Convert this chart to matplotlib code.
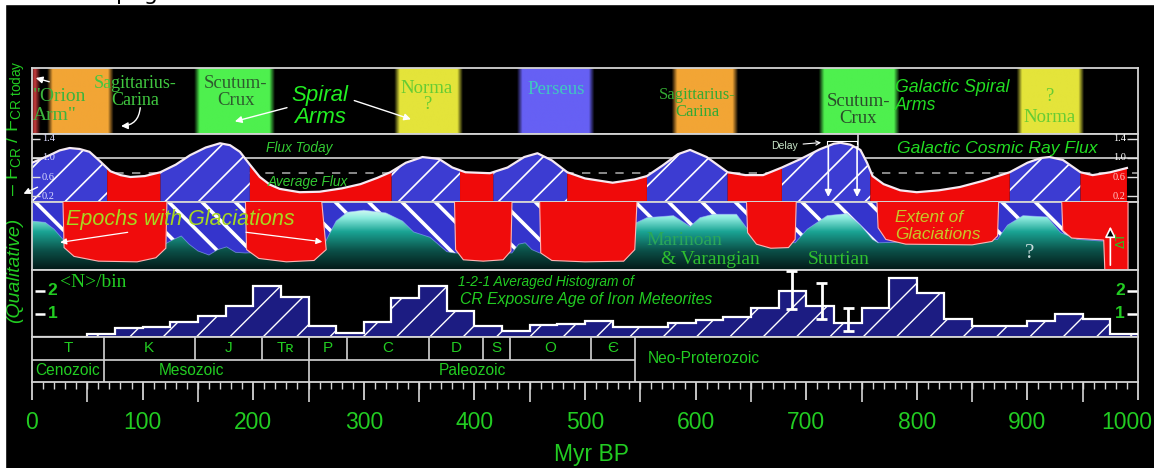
import numpy as np
import matplotlib
matplotlib.use("Agg")
import matplotlib.pyplot as plt
from matplotlib.colors import LinearSegmentedColormap, to_rgb
from matplotlib.patches import Rectangle

W, H = 1154, 468
X0, X1 = 32, 1138          # pixel columns of 0 and 1000 Myr

# ---------------- data ----------------
# spiral arm crossings (Myr BP)
arm_start = [0, 16, 149, 330, 441, 581, 714, 893]
arm_end = [5, 71, 217, 387, 506, 636, 782, 949]
arm_color = ['#c83c3c', '#f2a535', '#4ef04e', '#e4e43a', '#6660f4',
             '#f2a535', '#4ef04e', '#e4e43a']

# galactic cosmic ray flux, relative to today
flux_age = [0, 8, 16, 25, 34, 43, 52, 62, 71, 80, 89, 102, 116, 130, 143, 157,
            170, 179, 188, 197, 206, 215, 224, 242, 260, 280, 297, 312, 324,
            338, 353, 368, 380, 392, 414, 430, 445, 457, 470, 484, 500, 525,
            545, 556, 570, 584, 595, 610, 629, 645, 661, 678, 695, 712, 725,
            731, 740, 749, 755, 760, 770, 785, 800, 820, 839, 860, 884, 900,
            912, 920, 932, 948, 959, 975, 990]
flux_val = [0.90, 0.98, 1.06, 1.16, 1.21, 1.19, 1.13, 0.92, 0.72, 0.64, 0.60,
            0.62, 0.70, 0.86, 1.06, 1.22, 1.31, 1.27, 1.13, 0.86, 0.60, 0.44,
            0.35, 0.28, 0.29, 0.36, 0.45, 0.58, 0.70, 0.90, 1.02, 0.98, 0.80,
            0.70, 0.68, 0.80, 1.02, 1.10, 0.95, 0.70, 0.57, 0.48, 0.55, 0.62,
            0.84, 1.08, 1.17, 1.02, 0.70, 0.64, 0.64, 0.80, 0.98, 1.18, 1.30,
            1.32, 1.28, 1.17, 0.90, 0.62, 0.45, 0.32, 0.28, 0.32, 0.39, 0.52,
            0.70, 0.90, 1.00, 1.02, 0.96, 0.70, 0.64, 0.70, 0.79]
flux_avg = 0.68
flux_ticks = [1.4, 1.0, 0.6, 0.2]
high_start = [0, 116, 325, 417, 556, 678, 884]
high_end = [68, 197, 387, 484, 629, 758, 948]
low_start = [68, 197, 387, 484, 629, 758, 948]
low_end = [116, 325, 417, 556, 678, 884, 990]

# ice / sea profile under the glaciation bands
terrain_age = [0, 12, 20, 28, 40, 120, 128, 135, 142, 150, 160, 168, 176, 184,
               193, 262, 268, 275, 285, 300, 320, 335, 345, 360, 375, 382, 434,
               440, 446, 452, 459, 547, 556, 580, 595, 604, 616, 637, 646, 655,
               690, 701, 719, 737, 749, 760, 765, 873, 882, 896, 918, 930, 945,
               991]
terrain_h = [0.72, 0.70, 0.60, 0.45, 0.35, 0.38, 0.45, 0.50, 0.38, 0.28, 0.22,
             0.30, 0.34, 0.26, 0.25, 0.30, 0.50, 0.72, 0.85, 0.88, 0.84, 0.72,
             0.56, 0.48, 0.27, 0.25, 0.25, 0.38, 0.40, 0.30, 0.25, 0.70, 0.77,
             0.80, 0.64, 0.77, 0.82, 0.82, 0.62, 0.45, 0.40, 0.60, 0.80, 0.83,
             0.66, 0.45, 0.40, 0.45, 0.66, 0.80, 0.78, 0.55, 0.45, 0.40]

# epochs with glaciations: outline of each band's lower edge
glac_age = [[28, 29, 38, 60, 95, 112, 121, 122],
            [193, 194, 205, 230, 255, 266, 262],
            [382, 383, 390, 408, 426, 433, 434],
            [459, 460, 470, 500, 535, 545, 547],
            [646, 647, 655, 668, 684, 690, 691],
            [764, 765, 772, 790, 850, 868, 873, 874],
            [931, 932, 940, 960, 969, 970, 991, 991]]
glac_bottom = [[1, 0.33, 0.20, 0.13, 0.12, 0.18, 0.32, 1],
               [1, 0.30, 0.17, 0.12, 0.14, 0.30, 1],
               [1, 0.30, 0.15, 0.13, 0.15, 0.28, 1],
               [1, 0.25, 0.14, 0.12, 0.13, 0.30, 1],
               [1, 0.55, 0.38, 0.32, 0.33, 0.45, 1],
               [1, 0.62, 0.45, 0.38, 0.37, 0.42, 0.50, 1],
               [1, 0.58, 0.47, 0.45, 0.44, 0.00, 0.00, 1]]

# iron meteorite exposure ages, 1-2-1 averaged, 25 Myr bins
hist_edges = list(range(0, 1001, 25))
hist_n = [0, 0, 0.13, 0.40, 0.45, 0.65, 0.90, 1.35, 2.20, 1.75,
          0.48, 0.17, 0.65, 1.70, 2.20, 1.13, 0.48, 0.26, 0.50, 0.55,
          0.70, 0.45, 0.45, 0.60, 0.75, 0.85, 1.25, 2.00, 1.35, 0.60,
          1.26, 2.57, 1.90, 0.78, 0.48, 0.48, 0.70, 1.00, 0.78, 0.13]
err_age = [687, 714, 738]
err_lo = [1.22, 0.78, 0.26]
err_hi = [2.87, 2.35, 1.26]

# geological time scale
periods = ['T', 'K', 'J', 'Tʀ', 'P', 'C', 'D', 'S', 'O', 'Є']
period_edges = [0, 65, 147, 208, 250, 285, 359, 408, 432, 505, 545]
eras = ['Cenozoic', 'Mesozoic', 'Paleozoic']
era_edges = [0, 65, 250, 545]
era_pos = [32, 144, 398]
age_ticks = list(range(0, 1001, 100))

# ---------------- style ----------------
SANS = ['Liberation Sans', 'DejaVu Sans']
SERIF = ['Liberation Serif', 'DejaVu Serif']
GREEN = '#22cc22'
FRAME = '#d4d4d4'

plt.rcParams['mathtext.fontset'] = 'custom'
plt.rcParams['mathtext.rm'] = 'Liberation Sans'
plt.rcParams['mathtext.it'] = 'Liberation Sans:italic'
plt.rcParams['mathtext.default'] = 'regular'

fig = plt.figure(figsize=(W / 100, H / 100), dpi=100, facecolor='black')


def panel(top, bottom):
    ax = fig.add_axes([X0 / W, 1 - bottom / H, (X1 - X0) / W, (bottom - top) / H])
    ax.set_facecolor('black')
    ax.set_xticks([])
    ax.set_yticks([])
    for s in ax.spines.values():
        s.set_color(FRAME)
        s.set_linewidth(1.3)
    return ax


def hatched(coll, width):
    if hasattr(coll, 'set_hatch_linewidth'):
        coll.set_hatch_linewidth(width)


# ---------------- spiral arms ----------------
ax_arm = panel(68, 134)
grid = np.linspace(0, 1000, 2001)
strip = np.zeros((1, grid.size, 3))
for s, e, c in zip(arm_start, arm_end, arm_color):
    w = np.clip(np.minimum(grid - s, e - grid) / 5.0 + 0.5, 0, 1)
    strip += w[None, :, None] * np.array(to_rgb(c))
ax_arm.imshow(np.clip(strip, 0, 1), extent=[0, 1000, 0, 1], aspect='auto',
              interpolation='bilinear')
ax_arm.set_xlim(0, 1000)
ax_arm.set_ylim(0, 1)

ax_arm.text(1, 0.42, '"Orion\nArm"', family=SERIF, fontsize=14, color='#3cb43c',
            ha='left', va='center', linespacing=1.15)
ax_arm.text(93, 0.64, 'Sagittarius-\nCarina', family=SERIF, fontsize=13, color='#40c840',
            ha='center', va='center', linespacing=1.0)
ax_arm.text(184, 0.64, 'Scutum-\nCrux', family=SERIF, fontsize=13.5, color='#2e5a2e',
            ha='center', va='center', linespacing=1.0)
ax_arm.text(260, 0.42, 'Spiral\nArms', family=SANS, style='italic', fontsize=16,
            color='#22ee22', ha='center', va='center', linespacing=1.05)
ax_arm.text(357, 0.69, 'Norma', family=SERIF, fontsize=13.5, color='#66cc33',
            ha='center', va='center')
ax_arm.text(357, 0.44, '?', family=SERIF, fontsize=13.5, color='#66cc33',
            ha='center', va='center')
ax_arm.text(474, 0.67, 'Perseus', family=SERIF, fontsize=13.5, color='#40c8c0',
            ha='center', va='center')
ax_arm.text(602, 0.46, 'Sagittarius-\nCarina', family=SERIF, fontsize=12, color='#33aa33',
            ha='center', va='center', linespacing=1.1)
ax_arm.text(747, 0.37, 'Scutum-\nCrux', family=SERIF, fontsize=13.5, color='#2a4a2a',
            ha='center', va='center', linespacing=1.0)
ax_arm.text(780, 0.57, 'Galactic Spiral\nArms', family=SANS, style='italic',
            fontsize=12.8, color='#22dd22', ha='left', va='center', linespacing=1.05)
ax_arm.text(920, 0.57, '?', family=SERIF, fontsize=13.5, color='#66cc33',
            ha='center', va='center')
ax_arm.text(920, 0.25, 'Norma', family=SERIF, fontsize=13.5, color='#66cc33',
            ha='center', va='center')

arrow = dict(arrowstyle='-|>', color='white', lw=1.0, mutation_scale=10)
ax_arm.annotate('', xy=(181, 0.18), xytext=(233, 0.41), arrowprops=arrow)
ax_arm.annotate('', xy=(345, 0.21), xytext=(289, 0.52), arrowprops=arrow)
ax_arm.annotate('', xy=(1, 0.86), xytext=(18, 0.78), arrowprops=arrow)
ax_arm.annotate('', xy=(78, 0.12), xytext=(98, 0.44),
                arrowprops=dict(arrow, connectionstyle='arc3,rad=-0.5'))

# ---------------- cosmic ray flux ----------------
ax_flux = panel(134, 202)
ax_flux.set_xlim(0, 1000)
ax_flux.set_ylim(0.074, 1.505)
ax_flux.axhline(1.0, color=FRAME, lw=1.2, zorder=1)
ax_flux.axhline(flux_avg, color='#a0a0a0', lw=1.2, ls=(0, (5, 5)), zorder=1)
ax_flux.vlines(747, 1.0, 1.505, color=FRAME, lw=1.2, zorder=1)

fx = np.linspace(0, 990, 1981)
fy = np.interp(fx, flux_age, flux_val)
for s, e in zip(high_start, high_end):
    m = (fx >= s) & (fx <= e)
    c = ax_flux.fill_between(fx[m], 0, fy[m], facecolor='#3c3cd2', edgecolor='white',
                             hatch='/', lw=0, zorder=2)
    hatched(c, 1.2)
for s, e in zip(low_start, low_end):
    m = (fx >= s) & (fx <= e)
    ax_flux.fill_between(fx[m], 0, fy[m], facecolor='#f00a0a', lw=0, zorder=2)
ax_flux.plot(flux_age, flux_val, color='#f6eaf2', lw=1.6, zorder=3)

for v in flux_ticks:
    ax_flux.hlines(v, 0, 7, color='#e0e0e0', lw=1, zorder=4)
    ax_flux.hlines(v, 990, 1000, color='#e0e0e0', lw=1, zorder=4)
    ax_flux.text(9, v, f'{v:.1f}', family=SERIF, fontsize=7.5, color='#dcdcff',
                 va='center', ha='left', zorder=4)
    ax_flux.text(989, v, f'{v:.1f}', family=SERIF, fontsize=7.5,
                 color='white' if v >= 1 else '#ffc8c8', va='center', ha='right', zorder=4)

ax_flux.text(242, 1.21, 'Flux Today', family=SANS, style='italic', fontsize=9.8,
             color='#33cc33', ha='center', va='center', zorder=4)
ax_flux.text(249, 0.50, 'Average Flux', family=SANS, style='italic', fontsize=9.8,
             color='#33cc33', ha='center', va='center', zorder=4)
ax_flux.text(782, 1.21, 'Galactic Cosmic Ray Flux', family=SANS, style='italic',
             fontsize=12.6, color='#22dd22', ha='left', va='center', zorder=4)
ax_flux.annotate('Delay', xy=(716, 1.33), xytext=(668, 1.26), family=SANS, fontsize=7.5,
                 color='#c8e6c8', va='center',
                 arrowprops=dict(arrowstyle='->', color='white', lw=0.8))
ax_flux.plot([719, 719, 746, 746], [1.30, 1.36, 1.36, 1.30], color='white', lw=0.8, zorder=4)
for a in (720, 746):
    ax_flux.annotate('', xy=(a, 0.12), xytext=(a, 1.30), zorder=5,
                     arrowprops=dict(arrowstyle='-|>', color='white', lw=1.2,
                                     mutation_scale=10))

# ---------------- glaciations ----------------
ax_glac = panel(202, 270)
c = ax_glac.fill_between([0, 991], 0, 1, facecolor='#3434cc', edgecolor='white',
                         hatch='\\', lw=0, zorder=1)
hatched(c, 2.6)
ground = ax_glac.fill_between(terrain_age, 0, terrain_h, color='none', lw=0)
ice = LinearSegmentedColormap.from_list(
    'ice', [(0, '#031816'), (0.3, '#0b5048'), (0.6, '#1aa494'), (0.82, '#90ece0'),
            (1, '#f4fffd')])
im = ax_glac.imshow(np.linspace(0, 1, 256)[:, None], cmap=ice, origin='lower',
                    extent=[0, 991, 0, 0.93], aspect='auto', zorder=2)
im.set_clip_path(ground.get_paths()[0], transform=ax_glac.transData)
ax_glac.plot(terrain_age, terrain_h, color='#9ab0ff', lw=0.6, alpha=0.6, zorder=2)
for a, b in zip(glac_age, glac_bottom):
    ax_glac.fill(a + [a[-1], a[0]], b + [1.05, 1.05], facecolor='#f00c0c',
                 edgecolor='#ffb4b4', lw=0.8, zorder=3)
ax_glac.set_xlim(0, 1000)
ax_glac.set_ylim(0, 1)

ax_glac.text(31, 0.74, 'Epochs with Glaciations', family=SANS, style='italic',
             fontsize=15.5, color='#a8d820', ha='left', va='center', zorder=5)
ax_glac.annotate('', xy=(23, 0.40), xytext=(89, 0.56), zorder=5,
                 arrowprops=dict(arrowstyle='-|>', color='white', lw=0.9, mutation_scale=9))
ax_glac.annotate('', xy=(265, 0.41), xytext=(191, 0.56), zorder=5,
                 arrowprops=dict(arrowstyle='-|>', color='white', lw=0.9, mutation_scale=9))
ax_glac.text(590, 0.44, 'Marinoan', family=SERIF, fontsize=14, color='#2aa85a',
             ha='center', va='center', zorder=5)
ax_glac.text(613, 0.15, '& Varangian', family=SERIF, fontsize=14, color='#2fbf2f',
             ha='center', va='center', zorder=5)
ax_glac.text(729, 0.15, 'Sturtian', family=SERIF, fontsize=14, color='#2fbf2f',
             ha='center', va='center', zorder=5)
ax_glac.text(780, 0.65, 'Extent of\nGlaciations', family=SANS, style='italic',
             fontsize=12.4, color='#c8c828', ha='left', va='center', linespacing=1.15,
             zorder=5)
ax_glac.text(902, 0.25, '?', family=SERIF, fontsize=15, color='#c8dcdc',
             ha='center', va='center', zorder=5)
ax_glac.annotate('', xy=(975, 0.68), xytext=(975, 0.03), zorder=5,
                 arrowprops=dict(arrowstyle='-|>', facecolor='black', edgecolor='white',
                                 lw=1.2, mutation_scale=16))
ax_glac.text(985, 0.44, 'ΔT', family=SANS, fontsize=9, color=GREEN, rotation=90,
             ha='center', va='center', zorder=5)

# ---------------- meteorite histogram ----------------
ax_hist = panel(270, 337)
ax_hist.set_xlim(0, 1000)
ax_hist.set_ylim(0, 2.9)
c = ax_hist.stairs(hist_n, hist_edges, fill=True, facecolor='#1c1c82',
                   edgecolor='white', hatch='/', lw=0, zorder=2)
hatched(c, 1.0)
ax_hist.stairs(hist_n, hist_edges, baseline=None, color='white', lw=1.6, zorder=3)
ax_hist.vlines(err_age, err_lo, err_hi, color='white', lw=2, zorder=4)
ax_hist.hlines(err_lo + err_hi, [a - 5 for a in err_age * 2], [a + 5 for a in err_age * 2],
               color='white', lw=2, zorder=4)
for v in (1, 2):
    ax_hist.hlines(v, 3, 12, color='white', lw=1.8)
    ax_hist.hlines(v, 990, 1000, color='white', lw=1.8)
    ax_hist.text(14, v, str(v), family=SANS, fontsize=12.5, weight='bold', color=GREEN,
                 ha='left', va='center')
    ax_hist.text(988, v, str(v), family=SANS, fontsize=12.5, weight='bold', color=GREEN,
                 ha='right', va='center')
ax_hist.text(25, 2.35, '<N>/bin', family=SERIF, fontsize=14, color=GREEN,
             ha='left', va='center')
ax_hist.text(385, 2.39, '1-2-1 Averaged Histogram of', family=SANS, style='italic',
             fontsize=9.9, color=GREEN, ha='left', va='center', zorder=5)
ax_hist.text(387, 1.62, 'CR Exposure Age of Iron Meteorites', family=SANS,
             style='italic', fontsize=11.3, color=GREEN, ha='left', va='center', zorder=5)

# ---------------- geological time scale ----------------
ax_geo = panel(337, 382)
ax_geo.set_xlim(0, 1000)
ax_geo.set_ylim(0, 2)
ax_geo.hlines(1, 0, period_edges[-1], color=FRAME, lw=1.2)
ax_geo.vlines(period_edges[1:], 1, 2, color=FRAME, lw=1.2)
ax_geo.vlines(era_edges[1:], 0, 1, color=FRAME, lw=1.2)
for name, a, b in zip(periods, period_edges[:-1], period_edges[1:]):
    ax_geo.text((a + b) / 2, 1.5, name, family=SANS, fontsize=11, color=GREEN,
                ha='center', va='center')
for name, x in zip(eras, era_pos):
    ax_geo.text(x, 0.5, name, family=SANS, fontsize=11.2, color=GREEN,
                ha='center', va='center')
ax_geo.text(557, 1.05, 'Neo-Proterozoic', family=SANS, fontsize=11.2, color=GREEN,
            ha='left', va='center')

# Myr ruler below the time scale
ax_geo.set_xticks(age_ticks)
ax_geo.set_xticks(range(0, 1001, 10), minor=True)
ax_geo.set_xticklabels([])
ax_geo.tick_params(axis='x', which='major', length=13, width=1.3, color=FRAME)
ax_geo.tick_params(axis='x', which='minor', length=5, width=1.0, color=FRAME)
ax_geo.vlines(range(50, 1000, 100), -0.45, 0, color=FRAME, lw=1.2, clip_on=False,
              transform=ax_geo.get_xaxis_transform())
for v in age_ticks:
    last = v == age_ticks[-1]
    ax_geo.text(v + 13 if last else v, -0.91, str(v), family=SANS, fontsize=16.5,
                color=GREEN, ha='right' if last else 'center', va='center',
                transform=ax_geo.get_xaxis_transform(), clip_on=False)
fig.text(592 / W, 1 - 455 / H, 'Myr BP', family=SANS, fontsize=16.5, color=GREEN,
         ha='center', va='center')

# ---------------- axis title on the left ----------------
fig.text(15 / W, 1 - 270 / H, '(Qualitative)', family=SANS, style='italic', fontsize=14,
         color=GREEN, rotation=90, ha='center', va='center')
fig.text(15 / W, 1 - 128 / H, r'– $F_{CR}$ / $F_{CR\ today}$', family=SANS,
         fontsize=14, color=GREEN, rotation=90, ha='center', va='center')
ax_flux.annotate('', xy=(21, H - 195), xycoords='figure pixels', xytext=(40, H - 186),
                 textcoords='figure pixels', annotation_clip=False,
                 arrowprops=dict(arrowstyle='-|>', color='white', lw=1, mutation_scale=9))

# page margin left of and above the picture
fig.patches.append(Rectangle((0, 1 - 4 / H), 1, 4 / H, transform=fig.transFigure,
                             color='white', zorder=10))
fig.patches.append(Rectangle((0, 0), 5 / W, 1, transform=fig.transFigure,
                             color='white', zorder=10))
fig.text(116 / W, 1.0, 'page', family='DejaVu Sans', fontsize=16, color='black',
         va='baseline', ha='left', zorder=11)

fig.savefig('out.png', dpi=100, facecolor='black')
